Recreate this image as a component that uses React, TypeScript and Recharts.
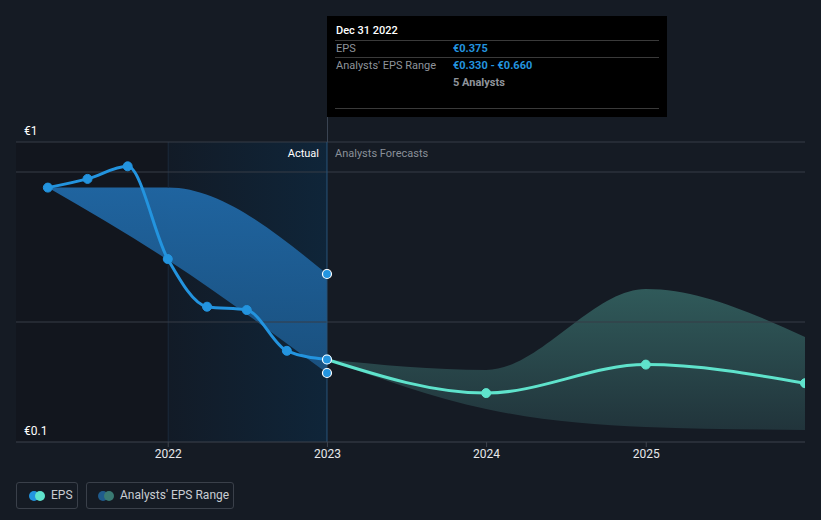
import React from 'react';
import {
  ComposedChart,
  Line,
  Area,
  XAxis,
  YAxis,
  ReferenceLine,
  ReferenceArea,
  ReferenceDot,
} from 'recharts';

// ---- data ----
const epsDates = ['2021-03-31', '2021-06-30', '2021-09-30', '2021-12-31', '2022-03-31', '2022-06-30', '2022-09-30', '2022-12-31'];
const epsValues = [0.948, 0.977, 1.019, 0.71, 0.551, 0.54, 0.404, 0.375];

const pastRangeDates = ['2021-03-31', '2021-12-31', '2022-12-31'];
const pastRangeLow = [0.948, 0.707, 0.33];
const pastRangeHigh = [0.948, 0.948, 0.66];

const forecastDates = ['2022-12-31', '2023-12-31', '2024-12-31', '2025-12-31'];
const forecastValues = [0.375, 0.263, 0.358, 0.296];
const forecastLow = [0.375, 0.21, 0.15, 0.14];
const forecastHigh = [0.375, 0.34, 0.61, 0.45];

const yearTicks = [2022, 2023, 2024, 2025];
const yLabels = [
  { value: 1.1, text: '€1' },
  { value: 0.1, text: '€0.1' },
];
const gridValues = [1.1, 1.0, 0.5];
const analystCount = 5;
const tooltipDate = 'Dec 31 2022';
const domainStart = '2021-01-17';
const domainEnd = '2025-12-31';

// ---- helpers ----
const T = (s: string) => Date.parse(s + 'T00:00:00Z');
const yearT = (y: number) => Date.UTC(y, 0, 1);

const epsData = epsDates.map((d, i) => ({ t: T(d), eps: epsValues[i] }));
const pastRangeData = pastRangeDates.map((d, i) => ({ t: T(d), range: [pastRangeLow[i], pastRangeHigh[i]] }));
const forecastData = forecastDates.map((d, i) => ({ t: T(d), eps: forecastValues[i] }));
const forecastRangeData = forecastDates.map((d, i) => ({ t: T(d), range: [forecastLow[i], forecastHigh[i]] }));

const BLUE = '#2394df';
const TEAL = '#5fe3cc';
const BG = '#151b24';
const GRID = '#363c46';
const Y_MIN = 0.1;
const Y_MAX = 1.1;

const nowT = T(epsDates[epsDates.length - 1]);
const lastEps = epsValues[epsValues.length - 1];
const lastLow = pastRangeLow[pastRangeLow.length - 1];
const lastHigh = pastRangeHigh[pastRangeHigh.length - 1];
const fmt = (v: number) => '€' + v.toFixed(3);

const ForecastDot = (props: any) => {
  const { cx, cy, index } = props;
  if (index === 0 || cx == null || cy == null) return <g key={`fd-${index}`} />;
  return <circle key={`fd-${index}`} cx={cx} cy={cy} r={4.5} fill={TEAL} stroke={TEAL} strokeWidth={1} />;
};

const YLabel = (text: string) => (props: any) => {
  const { viewBox } = props;
  return (
    <text x={viewBox.x + 8} y={viewBox.y - 7} fill="#ffffff" fontSize={12} fontFamily="Roboto, sans-serif">
      {text}
    </text>
  );
};

export default function App() {
  const font = 'Roboto, "Noto Sans", sans-serif';
  const t2022 = yearT(2022);
  return (
    <div style={{ position: 'absolute', left: 0, top: 0, width: 821, height: 520, background: BG, fontFamily: font, overflow: 'hidden' }}>
      <ComposedChart
        width={821}
        height={520}
        margin={{ top: 142, right: 16, left: 16, bottom: 48 }}
        style={{ position: 'absolute', left: 0, top: 0 }}
      >
        <defs>
          <linearGradient id="hl" x1="0" y1="0" x2="1" y2="0">
            <stop offset="0%" stopColor="#121b27" />
            <stop offset="100%" stopColor="#0f2539" />
          </linearGradient>
          <linearGradient id="pastFill" x1="0" y1="0" x2="0" y2="1">
            <stop offset="0%" stopColor="#2068a6" stopOpacity={0.95} />
            <stop offset="100%" stopColor="#1b5586" stopOpacity={0.9} />
          </linearGradient>
          <linearGradient id="fcFill" x1="0" y1="0" x2="0" y2="1">
            <stop offset="0%" stopColor="#305a5a" />
            <stop offset="100%" stopColor="#21343b" />
          </linearGradient>
        </defs>
        <XAxis
          dataKey="t"
          type="number"
          domain={[T(domainStart), T(domainEnd)]}
          allowDataOverflow
          ticks={yearTicks.map(yearT)}
          tickFormatter={(v: number) => String(new Date(v).getUTCFullYear())}
          axisLine={{ stroke: '#3d434d' }}
          tickLine={{ stroke: '#3d434d' }}
          tickSize={5}
          tick={{ fill: '#e6e8eb', fontSize: 12, fontFamily: font }}
          height={30}
        />
        <YAxis type="number" domain={[Y_MIN, Y_MAX]} hide allowDataOverflow />

        <ReferenceArea x1={T(domainStart)} x2={t2022} y1={Y_MIN} y2={Y_MAX} fill="#12161e" fillOpacity={1} stroke="none" ifOverflow="hidden" />
        <ReferenceArea x1={t2022} x2={nowT} y1={Y_MIN} y2={Y_MAX} fill="url(#hl)" fillOpacity={1} stroke="none" />
        <ReferenceLine
          segment={[{ x: t2022, y: pastRangeHigh[1] }, { x: t2022, y: Y_MAX }]}
          stroke="#1b2a3b"
          strokeWidth={1}
        />
        <ReferenceLine
          segment={[{ x: t2022, y: Y_MIN }, { x: t2022, y: pastRangeLow[1] }]}
          stroke="#1b2a3b"
          strokeWidth={1}
        />

        {gridValues.map((v) => (
          <ReferenceLine key={`g${v}`} y={v} stroke={GRID} strokeWidth={1} />
        ))}
        {yLabels.map((l) => (
          <ReferenceLine key={`l${l.value}`} y={l.value} stroke="none" label={YLabel(l.text)} />
        ))}

        <Area
          data={pastRangeData}
          dataKey="range"
          type="monotone"
          stroke="none"
          fill="url(#pastFill)"
          fillOpacity={1}
          isAnimationActive={false}
          activeDot={false}
        />
        <Area
          data={forecastRangeData}
          dataKey="range"
          type="monotone"
          stroke="none"
          fill="url(#fcFill)"
          fillOpacity={1}
          isAnimationActive={false}
          activeDot={false}
        />

        <ReferenceLine x={nowT} stroke="#285479" strokeWidth={1} />

        <Line
          data={forecastData}
          dataKey="eps"
          type="monotone"
          stroke={TEAL}
          strokeWidth={3}
          dot={ForecastDot}
          isAnimationActive={false}
          activeDot={false}
        />
        <Line
          data={epsData}
          dataKey="eps"
          type="monotone"
          stroke={BLUE}
          strokeWidth={3}
          dot={{ r: 4.5, fill: BLUE, stroke: BLUE, strokeWidth: 1 }}
          isAnimationActive={false}
          activeDot={false}
        />

        <ReferenceDot x={nowT} y={lastHigh} r={4.5} fill={BLUE} stroke="#ffffff" strokeWidth={1.2} />
        <ReferenceDot x={nowT} y={lastLow} r={4.5} fill={BLUE} stroke="#ffffff" strokeWidth={1.2} />
        <ReferenceDot x={nowT} y={lastEps} r={4.5} fill={BLUE} stroke="#ffffff" strokeWidth={1.2} />
      </ComposedChart>

      {/* Actual / Forecast labels */}
      <div style={{ position: 'absolute', left: 240, width: 79, top: 146, textAlign: 'right', color: '#ffffff', fontSize: 11, lineHeight: '16px' }}>Actual</div>
      <div style={{ position: 'absolute', left: 335, top: 146, color: '#8a9099', fontSize: 11, lineHeight: '16px' }}>Analysts Forecasts</div>

      {/* vertical line above plot */}
      <div style={{ position: 'absolute', left: 327, top: 16, width: 1, height: 126, background: '#3a4452' }} />

      {/* tooltip box */}
      <div style={{ position: 'absolute', left: 327, top: 16, width: 340, height: 101, background: '#000000', fontSize: 11, color: '#ffffff' }}>
        <div style={{ position: 'absolute', left: 9, top: 7, fontWeight: 500, lineHeight: '16px' }}>{tooltipDate}</div>
        <div style={{ position: 'absolute', left: 8, right: 8, top: 24, height: 1, background: '#3a3a3a' }} />
        <div style={{ position: 'absolute', left: 9, top: 25, color: '#8f949b', lineHeight: '16px' }}>EPS</div>
        <div style={{ position: 'absolute', left: 126, top: 25, color: BLUE, fontWeight: 700, lineHeight: '16px' }}>{fmt(lastEps)}</div>
        <div style={{ position: 'absolute', left: 8, right: 8, top: 41, height: 1, background: '#3a3a3a' }} />
        <div style={{ position: 'absolute', left: 9, top: 42, color: '#8f949b', lineHeight: '16px' }}>Analysts' EPS Range</div>
        <div style={{ position: 'absolute', left: 126, top: 42, color: BLUE, fontWeight: 700, lineHeight: '16px' }}>{fmt(lastLow) + ' - ' + fmt(lastHigh)}</div>
        <div style={{ position: 'absolute', left: 126, top: 59, color: '#8f949b', fontWeight: 700, lineHeight: '16px' }}>{analystCount} Analysts</div>
        <div style={{ position: 'absolute', left: 8, right: 8, top: 92, height: 1, background: '#3a3a3a' }} />
      </div>

      {/* legend */}
      <div style={{ position: 'absolute', left: 16, top: 482, width: 62, height: 27, border: '1px solid #3a404a', borderRadius: 3, boxSizing: 'border-box' }}>
        <div style={{ position: 'absolute', left: 12, top: 8, width: 10, height: 10, borderRadius: 5, background: BLUE }} />
        <div style={{ position: 'absolute', left: 18, top: 8, width: 10, height: 10, borderRadius: 5, background: TEAL }} />
        <div style={{ position: 'absolute', left: 34, top: 5, fontSize: 12, lineHeight: '15px', color: '#c9cdd3' }}>EPS</div>
      </div>
      <div style={{ position: 'absolute', left: 86, top: 482, width: 148, height: 27, border: '1px solid #3a404a', borderRadius: 3, boxSizing: 'border-box' }}>
        <div style={{ position: 'absolute', left: 11, top: 8, width: 10, height: 10, borderRadius: 5, background: '#1f5b8c' }} />
        <div style={{ position: 'absolute', left: 17, top: 8, width: 10, height: 10, borderRadius: 5, background: '#3a7a73' }} />
        <div style={{ position: 'absolute', left: 33, top: 5, fontSize: 12, lineHeight: '15px', color: '#c9cdd3' }}>Analysts' EPS Range</div>
      </div>
    </div>
  );
}
